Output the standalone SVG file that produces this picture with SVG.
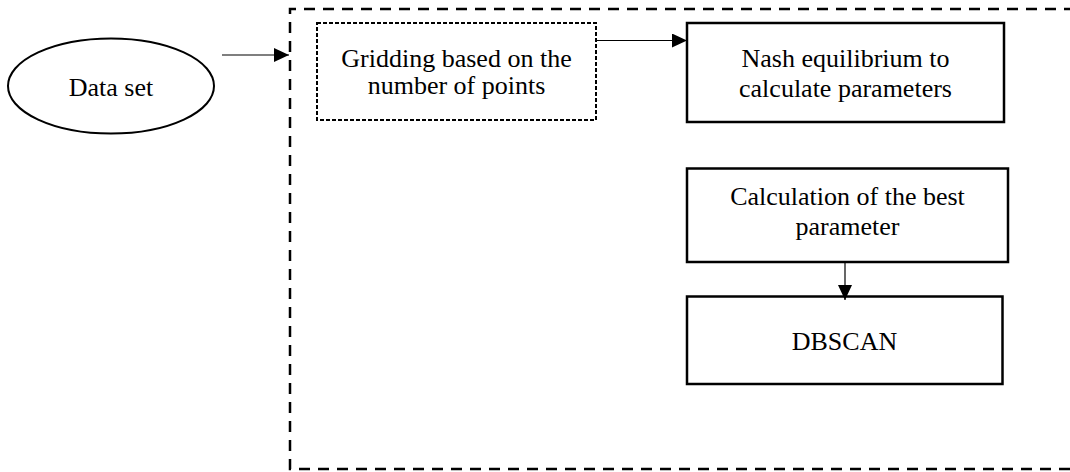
<svg xmlns="http://www.w3.org/2000/svg" width="1070" height="472" viewBox="0 0 1070 472">
<defs>
<marker id="arr" markerWidth="15" markerHeight="14" refX="15" refY="7" orient="auto" markerUnits="userSpaceOnUse">
<path d="M0,0 L15,7 L0,14 Z" fill="#000"/>
</marker>
<style>
.t{font-family:'Liberation Serif','Times New Roman','DejaVu Serif',serif;font-size:26px;fill:#000;text-anchor:middle}
.box{fill:#fff;stroke:#000;stroke-width:2.5}
.dash{fill:none;stroke:#000;stroke-width:2;stroke-dasharray:4 2}
.outer{fill:none;stroke:#000;stroke-width:2.5;stroke-dasharray:11 8}
.conn{fill:none;stroke:#000;stroke-width:1.2;marker-end:url(#arr)}
</style>
</defs>
<rect width="1070" height="472" fill="#fff"/>
<g id="container">
<path class="outer" d="M1075,9 H290 V469 H1075"/>
</g>
<g id="dataset">
<ellipse cx="111" cy="86" rx="103" ry="47.5" fill="#fff" stroke="#000" stroke-width="2"/>
<text class="t" x="111" y="96">Data set</text>
</g>
<g id="gridding">
<rect class="dash" x="317" y="23" width="279" height="97"/>
<text class="t" x="456.5" y="67">Gridding based on the</text>
<text class="t" x="456.5" y="94">number of points</text>
</g>
<g id="nash">
<rect class="box" x="687" y="23" width="317" height="99"/>
<text class="t" x="845.5" y="67">Nash equilibrium to</text>
<text class="t" x="845.5" y="97">calculate parameters</text>
</g>
<g id="best">
<rect class="box" x="687" y="168.5" width="321" height="93.5"/>
<text class="t" x="847.5" y="205">Calculation of the best</text>
<text class="t" x="847.5" y="235">parameter</text>
</g>
<g id="dbscan">
<rect class="box" x="687" y="296.5" width="315.5" height="87.5"/>
<text class="t" x="844.5" y="350">DBSCAN</text>
</g>
<g id="connectors">
<path class="conn" d="M222,55 H289"/>
<path class="conn" d="M596,40.5 H687"/>
<path class="conn" d="M845,262 V300"/>
</g>
</svg>
